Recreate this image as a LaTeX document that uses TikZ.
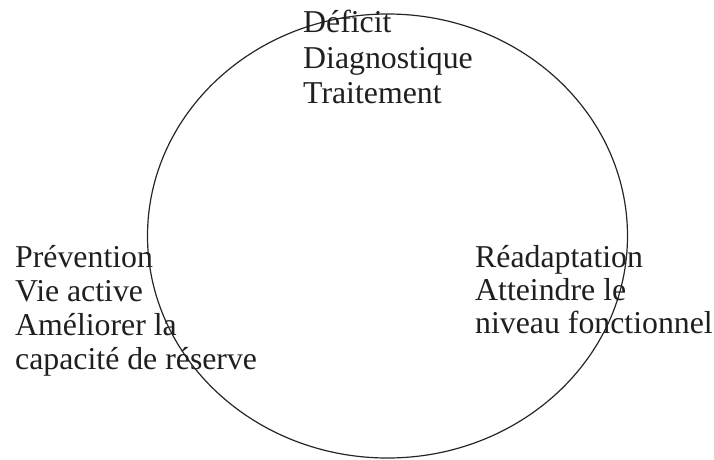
\documentclass[tikz,border=0pt]{standalone}
\usepackage{fontspec}
\setmainfont{Liberation Serif}
\begin{document}
\begin{tikzpicture}[x=1pt,y=1pt,
  lbl/.style={anchor=base west,inner sep=0pt,text=black!88,font=\fontsize{31.8}{34}\selectfont}]
\useasboundingbox (0,0) rectangle (714,459);
\draw[line width=1.2pt,black!85] (387.5,223) ellipse [x radius=240, y radius=222];
% top
\node[lbl] (t1) at (303,426) {Déficit};
\node[lbl] (t2) at (303,391) {Diagnostique};
\node[lbl] (t3) at (303,356) {Traitement};
% left
\node[lbl] (l1) at (15,192) {Prévention};
\node[lbl] (l2) at (15,158) {Vie active};
\node[lbl] (l3) at (15,124) {Améliorer la};
\node[lbl] (l4) at (15,90) {capacité de réserve};
% right
\node[lbl] (r1) at (475,192) {Réadaptation};
\node[lbl] (r2) at (475,159) {Atteindre le};
\node[lbl] (r3) at (475,126) {niveau fonctionnel};
\end{tikzpicture}
\end{document}
